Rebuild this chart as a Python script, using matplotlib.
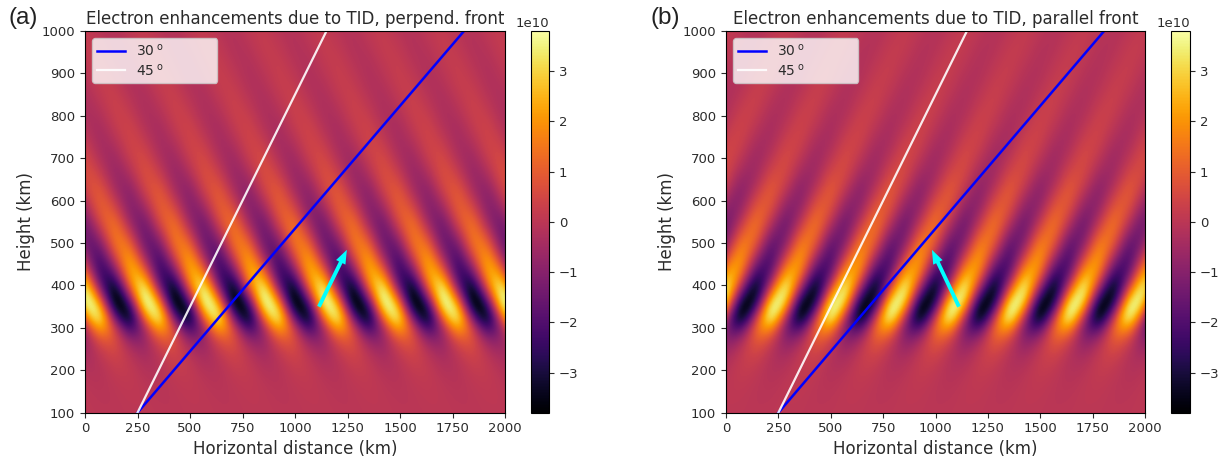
import numpy as np
import matplotlib
matplotlib.use("Agg")
import matplotlib.pyplot as plt

W, H = 1223, 462

# Electron density perturbation, in units of 1e10, estimated by eye from the reference colours.
# The stripes repeat along x, so each row holds ONE wave period
# (samples 71 km apart, first at x = -71 km) and is repeated across the panel.
heights = list(range(50, 1075, 25))
x_start, x_step = -71, 71
periods_shown = 8

wave_a = [
    [-.01, .01, .01, -.01], [-.01, .02, .01, -.02], [.01, .03, -.01, -.03], [.04, .03, -.04, -.03],
    [.08, .01, -.08, -.01], [.13, -.05, -.13, .05], [.16, -.19, -.16, .19], [.07, -.40, -.07, .40],
    [-.25, -.70, .25, .70], [-1.10, -.92, 1.10, .92], [-2.90, -.51, 2.90, .51], [-4.50, 1.64, 4.50, -1.64],
    [-3.55, 4.22, 3.55, -4.22], [-.92, 5.20, .92, -5.20], [1.56, 4.28, -1.56, -4.28], [2.82, 2.37, -2.82, -2.37],
    [3.04, .54, -3.04, -.54], [2.47, -.90, -2.47, .90], [1.48, -1.76, -1.48, 1.76], [.35, -1.97, -.35, 1.97],
    [-.62, -1.69, .62, 1.69], [-1.17, -.98, 1.17, .98], [-1.31, -.23, 1.31, .23], [-1.12, .41, 1.12, -.41],
    [-.64, .76, .64, -.76], [-.15, .85, .15, -.85], [.25, .68, -.25, -.68], [.48, .41, -.48, -.41],
    [.54, .09, -.54, -.09], [.47, -.17, -.47, .17], [.28, -.34, -.28, .34], [.07, -.39, -.07, .39],
    [-.12, -.33, .12, .33], [-.25, -.20, .25, .20], [-.29, -.05, .29, .05], [-.26, .09, .26, -.09],
    [-.16, .20, .16, -.20], [-.04, .24, .04, -.24], [.08, .20, -.08, -.20], [.16, .14, -.16, -.14],
    [.20, .03, -.20, -.03],
]
wave_b = [
    [.01, .01, -.01, -.01], [.01, .02, -.01, -.02], [0, .03, 0, -.03], [-.03, .04, .03, -.04],
    [-.07, .04, .07, -.04], [-.14, 0, .14, 0], [-.21, -.12, .21, .12], [-.20, -.35, .20, .35],
    [0, -.75, 0, .75], [.72, -1.25, -.72, 1.25], [2.54, -1.47, -2.54, 1.47], [4.80, 0, -4.80, 0],
    [4.78, 2.76, -4.78, -2.76], [2.64, 4.57, -2.64, -4.57], [0, 4.56, 0, -4.56], [-1.84, 3.19, 1.84, -3.19],
    [-2.66, 1.54, 2.66, -1.54], [-2.63, 0, 2.63, 0], [-1.99, -1.15, 1.99, 1.15], [-1.0, -1.73, 1.0, 1.73],
    [0, -1.8, 0, 1.8], [.76, -1.32, -.76, 1.32], [1.15, -.67, -1.15, .67], [1.19, 0, -1.19, 0],
    [.86, .50, -.86, -.50], [.41, .70, -.41, -.70], [0, .72, 0, -.72], [-.32, .55, .32, -.55],
    [-.48, .28, .48, -.28], [-.49, 0, .49, 0], [-.38, -.22, .38, .22], [-.20, -.35, .20, .35],
    [0, -.36, 0, .36], [.16, -.28, -.16, .28], [.26, -.15, -.26, .15], [.27, 0, -.27, 0],
    [.22, .13, -.22, -.13], [.12, .20, -.12, -.20], [0, .22, 0, -.22], [-.11, .19, .11, -.19],
    [-.18, .10, .18, -.10],
]

titles = ["Electron enhancements due to TID, perpend. front",
          "Electron enhancements due to TID, parallel front"]
panel_tags = ["(a)", "(b)"]
x_ticks = [0, 250, 500, 750, 1000, 1250, 1500, 1750, 2000]
y_ticks = [100, 200, 300, 400, 500, 600, 700, 800, 900, 1000]
cbar_ticks = [-3e10, -2e10, -1e10, 0, 1e10, 2e10, 3e10]
line_30_x, line_30_y = [250, 1805], [100, 1000]
line_45_x, line_45_y = [250, 1150], [100, 1000]
arrow_a = ((1114, 350), (1247, 484))
arrow_b = ((1112, 350), (983, 484))
color_limit = 3.8e10

ax_boxes = [(85, 31, 505, 412.7), (726, 31, 1145, 412.7)]
cb_boxes = [(531, 31, 549, 412.7), (1171, 31, 1190, 412.7)]
tag_x = [8, 650]
TXT = "#2b2b2b"
PAD = "\u00a0" * 12


def rect(box):
    l, t, r, b = box
    return [l / W, 1 - b / H, (r - l) / W, (b - t) / H]


fig = plt.figure(figsize=(W / 100, H / 100), dpi=100)
for k, (wave, arrow) in enumerate(zip([wave_a, wave_b], [arrow_a, arrow_b])):
    ax = fig.add_axes(rect(ax_boxes[k]))
    field = np.tile(np.array(wave) * 1e10, (1, periods_shown))
    x_first = x_start - x_step / 2
    x_last = x_start + x_step * (field.shape[1] - 0.5)
    y_first = heights[0] - 12.5
    y_last = heights[-1] + 12.5
    im = ax.imshow(field, origin="lower", cmap="inferno", aspect="auto",
                   extent=[x_first, x_last, y_first, y_last], interpolation="bicubic",
                   vmin=-color_limit, vmax=color_limit)
    ax.plot(line_30_x, line_30_y, color="blue", lw=1.8, label="30$\\,^{\\mathrm{o}}$" + PAD)
    ax.plot(line_45_x, line_45_y, color="white", lw=1.6, label="45$\\,^{\\mathrm{o}}$" + PAD, alpha=0.9)
    ax.annotate("", xy=arrow[1], xytext=arrow[0],
                arrowprops=dict(color="cyan", width=2.8, headwidth=7.5, headlength=10,
                                shrink=0, lw=0))
    ax.set_xlim(0, 2000)
    ax.set_ylim(100, 1000)
    ax.set_xticks(x_ticks)
    ax.set_yticks(y_ticks)
    ax.tick_params(labelsize=9.5, colors=TXT, length=3.5, width=0.8)
    ax.set_xlabel("Horizontal distance (km)", fontsize=12, color=TXT, labelpad=3)
    ax.set_ylabel("Height (km)", fontsize=12, color=TXT, labelpad=5)
    ax.set_title(titles[k], fontsize=12, color=TXT, pad=5)
    leg = ax.legend(loc="upper left", fontsize=10, borderaxespad=0.5,
                    labelspacing=0.25, borderpad=0.35)
    for t in leg.get_texts():
        t.set_color(TXT)

    cax = fig.add_axes(rect(cb_boxes[k]))
    cb = fig.colorbar(im, cax=cax, ticks=cbar_ticks)
    cb.ax.tick_params(labelsize=9.5, colors=TXT, length=3.5, width=0.8)
    cb.ax.yaxis.get_offset_text().set_fontsize(9.5)
    cb.ax.yaxis.get_offset_text().set_color(TXT)

    fig.text(tag_x[k] / W, 1 - 18 / H, panel_tags[k], fontsize=17.5, va="center", ha="left",
             family="Liberation Sans", color="#222222")

fig.savefig("out.png", dpi=100)
